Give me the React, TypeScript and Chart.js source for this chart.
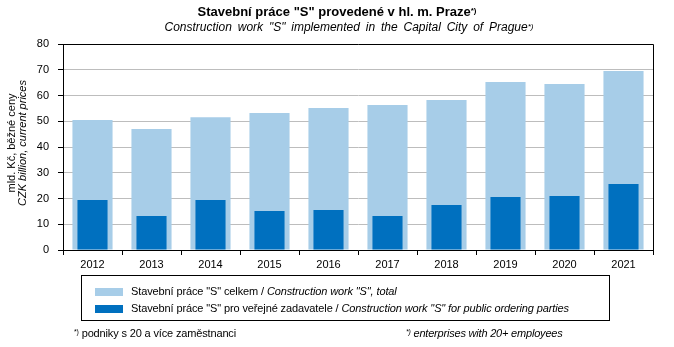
import React, { useEffect, useRef } from "react";
import { Chart, registerables } from "chart.js";

Chart.register(...registerables);

const years = ["2012", "2013", "2014", "2015", "2016", "2017", "2018", "2019", "2020", "2021"];
const totalWork = [50.5, 47.0, 51.6, 53.2, 55.1, 56.3, 58.3, 65.2, 64.5, 69.5];
const publicWork = [19.4, 13.2, 19.4, 15.1, 15.5, 13.2, 17.5, 20.6, 21.0, 25.6];
const yTicks = [0, 10, 20, 30, 40, 50, 60, 70, 80];

const LIGHT = "#a7cde8";
const DARK = "#0070bf";
const FONT = "'Liberation Sans', Arial, sans-serif";

const borderPlugin = {
  id: "plotBorder",
  afterDraw(chart: any) {
    const { ctx, chartArea } = chart;
    ctx.save();
    ctx.strokeStyle = "#000";
    ctx.lineWidth = 1;
    ctx.beginPath();
    ctx.moveTo(Math.round(chartArea.left) + 0.5, Math.round(chartArea.top) + 0.5);
    ctx.lineTo(Math.round(chartArea.right) + 0.5, Math.round(chartArea.top) + 0.5);
    ctx.lineTo(Math.round(chartArea.right) + 0.5, Math.round(chartArea.bottom) + 0.5);
    ctx.stroke();
    ctx.restore();
  },
};

export default function App() {
  const ref = useRef<HTMLCanvasElement | null>(null);
  useEffect(() => {
    if (!ref.current) return;
    const chart = new Chart(ref.current, {
      type: "bar",
      data: {
        labels: years,
        datasets: [
          {
            label: 'Stavební práce "S" pro veřejné zadavatele',
            data: publicWork,
            backgroundColor: DARK,
            categoryPercentage: 1,
            barPercentage: 0.51,
            grouped: false,
            order: 0,
          },
          {
            label: 'Stavební práce "S" celkem',
            data: totalWork,
            backgroundColor: LIGHT,
            categoryPercentage: 1,
            barPercentage: 0.68,
            grouped: false,
            order: 1,
          },
        ],
      },
      options: {
        animation: false,
        responsive: false,
        maintainAspectRatio: false,
        layout: { padding: { left: 0, right: 21, top: 44, bottom: 77 } },
        plugins: { legend: { display: false }, tooltip: { enabled: false }, title: { display: false } },
        scales: {
          x: {
            offset: true,
            grid: { offset: true, drawOnChartArea: false, drawTicks: true, tickLength: 5, tickColor: "#000" },
            border: { display: true, color: "#000", width: 1 },
            ticks: { color: "#000", font: { family: FONT, size: 11 }, padding: 3, maxRotation: 0 },
            afterFit: (s: any) => { s.height = 20; },
          },
          y: {
            min: 0,
            max: 80,
            afterBuildTicks: (s: any) => { s.ticks = yTicks.map((v) => ({ value: v })); },
            grid: { color: "#bdbdbd", lineWidth: 1, drawTicks: true, tickLength: 5, tickColor: "#000" },
            border: { display: true, color: "#000", width: 1 },
            ticks: { color: "#000", font: { family: FONT, size: 11 }, padding: 9 },
            afterFit: (s: any) => { s.width = 63; },
          },
        },
      },
      plugins: [borderPlugin],
    });
    return () => chart.destroy();
  }, []);

  const sup: React.CSSProperties = { fontSize: 7, verticalAlign: "top", position: "relative", top: -1 };

  return (
    <div style={{ position: "absolute", left: 0, top: 0, width: 674, height: 347, background: "#fff", fontFamily: FONT, color: "#000", overflow: "hidden" }}>
      <canvas ref={ref} width={674} height={347} style={{ position: "absolute", left: 0, top: 0, width: 674, height: 347 }} />
      <div style={{ position: "absolute", left: 0, top: 4, width: 674, textAlign: "center", fontSize: 13, fontWeight: "bold", lineHeight: "15px" }}>
        Stavební práce "S" provedené v hl. m. Praze<span style={{ ...sup, fontSize: 8 }}>*)</span>
      </div>
      <div style={{ position: "absolute", left: 12, top: 20, width: 674, textAlign: "center", fontSize: 12, fontStyle: "italic", lineHeight: "15px", wordSpacing: 2.5 }}>
        Construction work "S" implemented in the Capital City of Prague<span style={{ ...sup, fontSize: 8 }}>*)</span>
      </div>
      <div style={{ position: "absolute", left: 21 - 100, top: 143 - 15, width: 200, height: 30, transform: "rotate(-90deg)", textAlign: "center", fontSize: 11, lineHeight: "11px" }}>
        <div>mld. Kč, běžné ceny</div>
        <div style={{ fontStyle: "italic" }}>CZK billion, current prices</div>
      </div>
      <div style={{ position: "absolute", left: 81, top: 275, width: 527, height: 44, border: "1px solid #000", fontSize: 11, letterSpacing: -0.12 }}>
        <div style={{ position: "absolute", left: 13, top: 12, width: 28, height: 8, background: LIGHT }} />
        <div style={{ position: "absolute", left: 49, top: 9, whiteSpace: "nowrap", lineHeight: "13px" }}>
          Stavební práce "S" celkem / <i>Construction work "S", total</i>
        </div>
        <div style={{ position: "absolute", left: 13, top: 29, width: 28, height: 8, background: DARK }} />
        <div style={{ position: "absolute", left: 49, top: 26, whiteSpace: "nowrap", lineHeight: "13px" }}>
          Stavební práce "S" pro veřejné zadavatele / <i>Construction work "S" for public ordering parties</i>
        </div>
      </div>
      <div style={{ position: "absolute", left: 74, top: 327, whiteSpace: "nowrap", fontSize: 11, letterSpacing: -0.15, lineHeight: "12px" }}>
        <span style={sup}>*)</span> podniky s 20 a více zaměstnanci
      </div>
      <div style={{ position: "absolute", left: 406, top: 327, whiteSpace: "nowrap", fontSize: 11, letterSpacing: -0.2, lineHeight: "12px", fontStyle: "italic" }}>
        <span style={sup}>*)</span> enterprises with 20+ employees
      </div>
    </div>
  );
}
